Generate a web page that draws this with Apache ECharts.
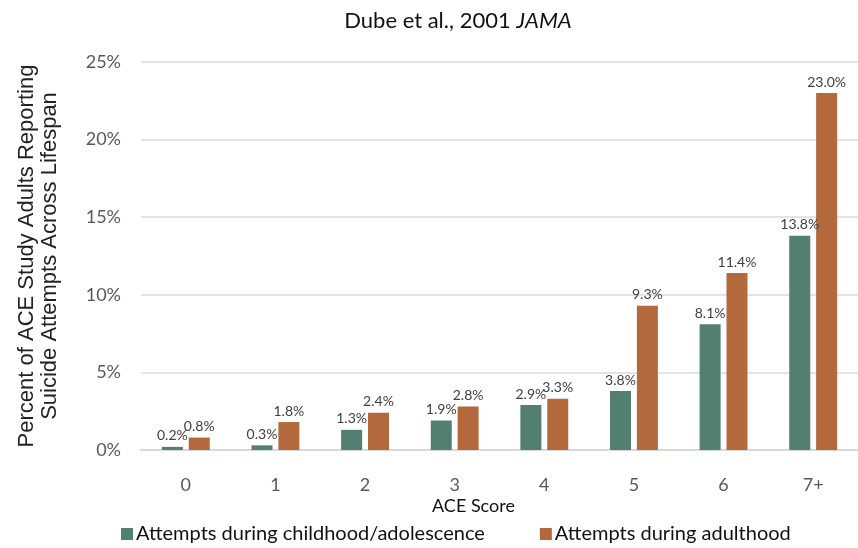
<!DOCTYPE html>
<html>
<head>
<meta charset="utf-8">
<script src="https://cdn.jsdelivr.net/npm/echarts@6/dist/echarts.min.js"></script>
<style>
	html, body { margin: 0; padding: 0; background: #fff; }
	#main { width: 858px; height: 548px; }
</style>
</head>
<body>
<div id="main"></div>
<script>
	var scores = ['0', '1', '2', '3', '4', '5', '6', '7+'];
	var childhood = [0.2, 0.3, 1.3, 1.9, 2.9, 3.8, 8.1, 13.8];
	var adulthood = [0.8, 1.8, 2.4, 2.8, 3.3, 9.3, 11.4, 23.0];
	var seriesNames = ['Attempts during childhood/adolescence', 'Attempts during adulthood'];

	var labelFont = 'Lato, "Open Sans", sans-serif';
	var myChart = echarts.init(document.getElementById('main'));

	var barLabel = {
		show: true,
		position: 'top',
		distance: 4,
		fontFamily: labelFont,
		fontSize: 14,
		color: '#404040',
		formatter: function (p) { return p.value.toFixed(1) + '%'; }
	};

	var option = {
		animation: false,
		title: {
			text: '{n|Dube et al., 2001 }{i|JAMA}',
			left: 453,
			textAlign: 'center',
			top: 5,
			textStyle: {
				rich: {
					n: { fontFamily: labelFont, fontSize: 22, fontWeight: 'normal', color: '#111' },
					i: { fontFamily: labelFont, fontSize: 22, fontWeight: 'normal', color: '#111', fontStyle: 'italic' }
				}
			}
		},
		legend: {
			left: 116,
			top: 519,
			itemWidth: 12,
			itemHeight: 12,
			itemGap: 55,
			icon: 'rect',
			textStyle: { fontFamily: labelFont, fontSize: 20, color: '#111', padding: [0, 0, 0, -2] },
			data: seriesNames
		},
		grid: { left: 141, right: -20, top: 62, bottom: 98 },
		xAxis: {
			type: 'category',
			data: scores,
			axisTick: { show: false },
			axisLine: { lineStyle: { color: '#d9d9d9', width: 2 } },
			axisLabel: { fontFamily: labelFont, fontSize: 18, color: '#595959', margin: 26 }
		},
		yAxis: {
			type: 'value',
			min: 0,
			max: 25,
			interval: 5,
			name: 'Percent of ACE Study Adults Reporting\nSuicide Attempts Across Lifespan',
			nameLocation: 'middle',
			nameGap: 80,
			nameTextStyle: { fontFamily: 'Liberation Sans, Arial, sans-serif', fontSize: 22, color: '#222', lineHeight: 23 },
			axisLabel: { fontFamily: labelFont, fontSize: 18, color: '#595959', margin: 20, formatter: '{value}%' },
			splitLine: { lineStyle: { color: '#e3e3e3', width: 2 } }
		},
		graphic: [{
			type: 'text',
			left: 432,
			top: 497,
			style: { text: 'ACE Score', fontFamily: labelFont, fontSize: 18, fill: '#111' }
		}],
		series: [{
			name: seriesNames[0],
			type: 'bar',
			data: childhood,
			barWidth: 21,
			barGap: '28%',
			itemStyle: { color: '#527f71' },
			label: barLabel
		}, {
			name: seriesNames[1],
			type: 'bar',
			data: adulthood,
			barWidth: 21,
			itemStyle: { color: '#b3693c' },
			label: barLabel
		}]
	};

	myChart.setOption(option);
</script>
</body>
</html>
